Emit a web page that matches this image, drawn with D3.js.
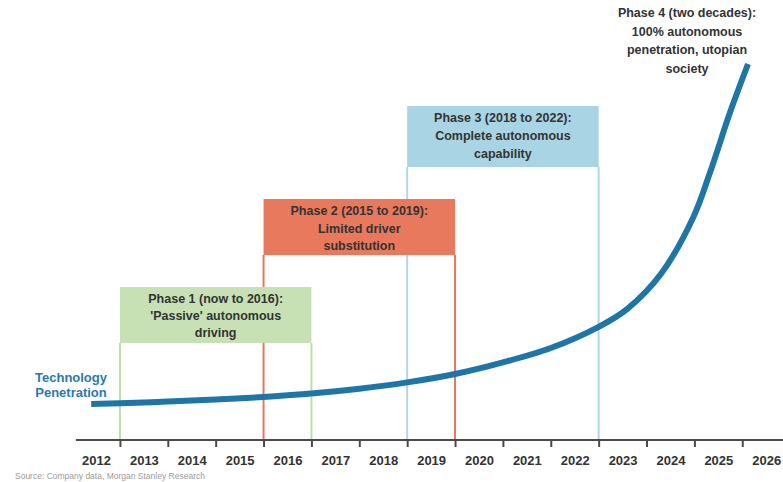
<!DOCTYPE html>
<html>
<head>
<meta charset="utf-8">
<script src="https://cdn.jsdelivr.net/npm/d3@7/dist/d3.min.js"></script>
<style>
  html, body { margin: 0; padding: 0; background: #fff; }
  svg { display: block; font-family: "Liberation Sans", Arial, sans-serif; }
</style>
</head>
<body>
<svg id="chart" width="783" height="482"></svg>
<script>
// ---- data ----
const years = [2012, 2013, 2014, 2015, 2016, 2017, 2018, 2019, 2020, 2021, 2022, 2023, 2024, 2025, 2026];
const tickBoundaries = [2012.5, 2013.5, 2014.5, 2015.5, 2016.5, 2017.5, 2018.5, 2019.5, 2020.5, 2021.5, 2022.5, 2023.5, 2024.5, 2025.5];

// technology penetration curve (index 0-100)
const curveYears  = [2011.9, 2012.5, 2013.5, 2014.5, 2015.5, 2016.5, 2017.5, 2018.5, 2019.5, 2020.5, 2021.5, 2022.5, 2023.1, 2023.8, 2024.47, 2024.83, 2025.24, 2025.62];
const curveValues = [9, 9.2, 9.6, 10.1, 10.75, 11.6, 12.8, 14.4, 16.5, 19.4, 23.0, 28.3, 32.8, 41.5, 55.5, 67, 81.75, 94];

const phaseNames  = ["Phase 1", "Phase 2", "Phase 3"];
const phaseStart  = [2012.5, 2015.5, 2018.5];
const phaseEnd    = [2016.5, 2019.5, 2022.5];
const phaseLabels = [
  ["Phase 1 (now to 2016):", "'Passive' autonomous", "driving"],
  ["Phase 2 (2015 to 2019):", "Limited driver", "substitution"],
  ["Phase 3 (2018 to 2022):", "Complete autonomous", "capability"]
];
const phase4Label = ["Phase 4 (two decades):", "100% autonomous", "penetration, utopian", "society"];
const seriesLabel = ["Technology", "Penetration"];
const sourceText = "Source: Company data, Morgan Stanley Research";

// ---- layout / style ----
const phaseFill   = ["#c7e1b5", "#e8795d", "#a9d4e4"];
const phaseStroke = ["#bfdea5", "#e2795a", "#b0d7e6"];
const headerTop   = [287, 199, 106];
const headerH     = [56, 56, 61];
const lineStep    = [17, 17.5, 18];

const svg = d3.select("#chart");
const x = d3.scaleLinear().domain([2012, 2026]).range([96, 766.2]);
const y = d3.scaleLinear().domain([0, 100]).range([440, 40]);
const axisY = 440;
const textColor = "#333333";

// phase vertical lines (drawn first, headers cover them)
const phases = phaseNames.map((n, i) => ({i, s: phaseStart[i], e: phaseEnd[i]}));
const gLines = svg.append("g");
phases.forEach(p => {
  [p.s, p.e].forEach(v => {
    gLines.append("line")
      .attr("x1", x(v)).attr("x2", x(v))
      .attr("y1", headerTop[p.i] + headerH[p.i]).attr("y2", axisY)
      .attr("stroke", phaseStroke[p.i]).attr("stroke-width", 2);
  });
});

// headers
const gHead = svg.append("g");
phases.forEach(p => {
  gHead.append("rect")
    .attr("x", x(p.s)).attr("y", headerTop[p.i])
    .attr("width", x(p.e) - x(p.s)).attr("height", headerH[p.i])
    .attr("fill", phaseFill[p.i]);
  const cx = (x(p.s) + x(p.e)) / 2;
  phaseLabels[p.i].forEach((t, j) => {
    gHead.append("text")
      .attr("x", cx).attr("y", headerTop[p.i] + 16 + j * lineStep[p.i])
      .attr("text-anchor", "middle")
      .attr("font-size", "12.5px").attr("font-weight", "bold")
      .attr("fill", textColor).text(t);
  });
});

// phase 4 label
phase4Label.forEach((t, j) => {
  svg.append("text")
    .attr("x", 687).attr("y", 17 + j * 18.6)
    .attr("text-anchor", "middle")
    .attr("font-size", "12.5px").attr("font-weight", "bold")
    .attr("fill", textColor).text(t);
});

// axis
const gAxis = svg.append("g").attr("transform", `translate(0,${axisY})`);
gAxis.append("line")
  .attr("x1", x(2011.58)).attr("x2", 783)
  .attr("y1", 0).attr("y2", 0)
  .attr("stroke", "#4a4a4a").attr("stroke-width", 2.2);
const tickAxis = d3.axisBottom(x).tickValues(tickBoundaries).tickSize(7).tickFormat("");
const gTicks = gAxis.append("g").call(tickAxis);
gTicks.select(".domain").remove();
gTicks.selectAll(".tick line").attr("stroke", "#4a4a4a").attr("stroke-width", 2);

const labelAxis = d3.axisBottom(x).tickValues(years).tickSize(0).tickPadding(16).tickFormat(d3.format("d"));
const gLabels = gAxis.append("g").call(labelAxis);
gLabels.select(".domain").remove();
gLabels.selectAll(".tick text")
  .attr("font-family", "Liberation Sans, Arial, sans-serif")
  .attr("font-size", "13px").attr("font-weight", "bold")
  .attr("fill", textColor);

// curve
const line = d3.line()
  .x((d, i) => x(curveYears[i]))
  .y(d => y(d))
  .curve(d3.curveCatmullRom.alpha(0.5));
svg.append("path")
  .datum(curveValues)
  .attr("d", line)
  .attr("fill", "none")
  .attr("stroke", "#1f75a6")
  .attr("stroke-width", 6);

// series label
seriesLabel.forEach((t, j) => {
  svg.append("text")
    .attr("x", 71).attr("y", 382 + j * 15)
    .attr("text-anchor", "middle")
    .attr("font-size", "13px").attr("font-weight", "bold")
    .attr("fill", "#2a79ae").text(t);
});

// source
svg.append("text")
  .attr("x", 15).attr("y", 479)
  .attr("font-size", "8.5px")
  .attr("fill", "#9a9a9a").text(sourceText);
</script>
</body>
</html>
